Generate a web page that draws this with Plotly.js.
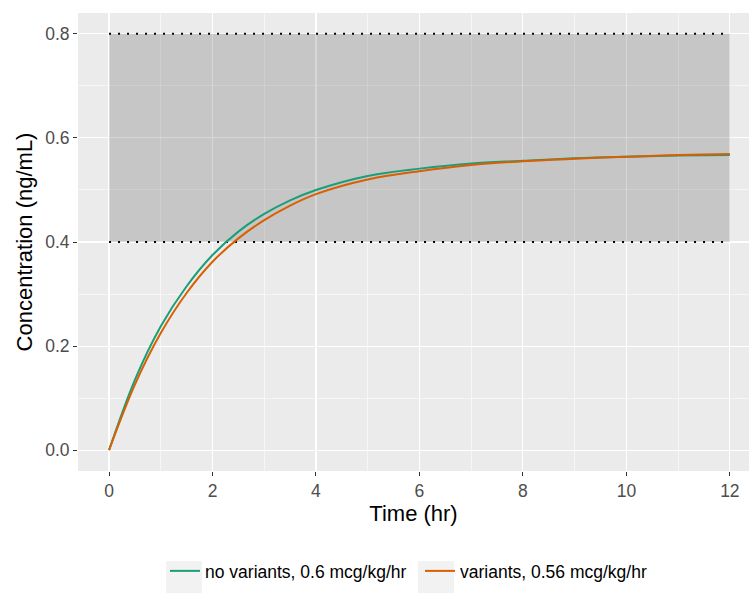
<!DOCTYPE html>
<html>
<head>
<meta charset="utf-8">
<script src="https://cdn.plot.ly/plotly-3.0.1.min.js"></script>
<style>html,body{margin:0;padding:0;background:#fff;}#chart{width:749px;height:593px;}</style>
</head>
<body>
<div id="chart"></div>
<script>
// Time (hr)
const timeHr = [0, 0.5, 1, 1.5, 2, 2.5, 3, 3.5, 4, 5, 6, 7, 8, 9, 10, 11, 12];
// Concentration (ng/mL)
const noVariants = [0, 0.135, 0.238, 0.315, 0.375, 0.420, 0.454, 0.480, 0.500, 0.527, 0.541, 0.551, 0.556, 0.561, 0.564, 0.566, 0.567];
const variants   = [0, 0.126, 0.225, 0.302, 0.362, 0.407, 0.442, 0.470, 0.492, 0.520, 0.536, 0.548, 0.555, 0.560, 0.564, 0.567, 0.569];
const seriesNames = ["no variants, 0.6 mcg/kg/hr", "variants, 0.56 mcg/kg/hr"];
const seriesColors = ['#1B9E77', '#D95F02'];
const targetLow = 0.4;
const targetHigh = 0.8;
const targetStart = 0;
const targetEnd = 12;
const xTicks = [0, 2, 4, 6, 8, 10, 12];
const yTicks = [0.0, 0.2, 0.4, 0.6, 0.8];

const FONT = 'Liberation Sans, Arial, Helvetica, sans-serif';

const traces = [
  {x: timeHr, y: noVariants, name: seriesNames[0], type: 'scatter', mode: 'lines',
   line: {color: seriesColors[0], width: 2, shape: 'spline', smoothing: 1}},
  {x: timeHr, y: variants, name: seriesNames[1], type: 'scatter', mode: 'lines',
   line: {color: seriesColors[1], width: 2, shape: 'spline', smoothing: 1}}
];

const axisCommon = {
  showgrid: true, gridcolor: '#FFFFFF', gridwidth: 1.1, zeroline: false,
  ticks: 'outside', ticklen: 4, tickwidth: 1, tickcolor: '#333333',
  tickfont: {family: FONT, size: 17.5, color: '#4D4D4D'},
  showline: false
};

// plot area in px: left 78, right 749, top 13, bottom 471
const L = 78, R = 749, T = 13, B = 471;
const px2x = p => (p - L) / (R - L);
const px2y = p => (B - p) / (B - T);

const layout = {
  width: 749, height: 593,
  paper_bgcolor: '#FFFFFF', plot_bgcolor: '#EBEBEB',
  margin: {l: L, r: 749 - R, t: T, b: 593 - B, autoexpand: false},
  font: {family: FONT, color: '#000000'},
  xaxis: Object.assign({}, axisCommon, {
    range: [-0.6, 12.37], tickvals: xTicks, ticktext: xTicks.map(String),
    minor: {showgrid: true, gridcolor: '#FFFFFF', gridwidth: 0.55, ticks: '', dtick: 1, tick0: 0},
    title: {text: 'Time (hr)', font: {family: FONT, size: 22, color: '#000000'}, standoff: 4}
  }),
  yaxis: Object.assign({}, axisCommon, {
    range: [-0.04, 0.84], tickvals: yTicks, ticktext: yTicks.map(v => v.toFixed(1)),
    minor: {showgrid: true, gridcolor: '#FFFFFF', gridwidth: 0.55, ticks: '', dtick: 0.1, tick0: 0},
    title: {text: 'Concentration (ng/mL)', font: {family: FONT, size: 22, color: '#000000'}, standoff: 6}
  }),
  shapes: [
    {type: 'rect', xref: 'x', yref: 'y', x0: targetStart, x1: targetEnd, y0: targetLow, y1: targetHigh,
     fillcolor: 'rgba(0,0,0,0.155)', line: {width: 0}, layer: 'between'},
    {type: 'line', xref: 'x', yref: 'y', x0: targetStart, x1: targetEnd, y0: targetLow, y1: targetLow,
     line: {color: '#000000', width: 2, dash: '2px,7px'}, layer: 'between'},
    {type: 'line', xref: 'x', yref: 'y', x0: targetStart, x1: targetEnd, y0: targetHigh, y1: targetHigh,
     line: {color: '#000000', width: 2, dash: '2px,7px'}, layer: 'between'},
    // legend key backgrounds
    {type: 'rect', xref: 'paper', yref: 'paper', x0: px2x(166), x1: px2x(202), y0: px2y(594), y1: px2y(561),
     fillcolor: '#F2F2F2', line: {width: 0}, layer: 'below'},
    {type: 'rect', xref: 'paper', yref: 'paper', x0: px2x(418), x1: px2x(454), y0: px2y(594), y1: px2y(561),
     fillcolor: '#F2F2F2', line: {width: 0}, layer: 'below'}
  ],
  showlegend: true,
  legend: {orientation: 'h', x: px2x(165), xanchor: 'left', y: px2y(571), yanchor: 'middle',
    font: {family: FONT, size: 17.5, color: '#000000'},
    bgcolor: 'rgba(0,0,0,0)', itemwidth: 30, entrywidth: 210, entrywidthmode: 'pixels', tracegroupgap: 0}
};

Plotly.newPlot('chart', traces, layout, {displayModeBar: false, staticPlot: true});
</script>
</body>
</html>
